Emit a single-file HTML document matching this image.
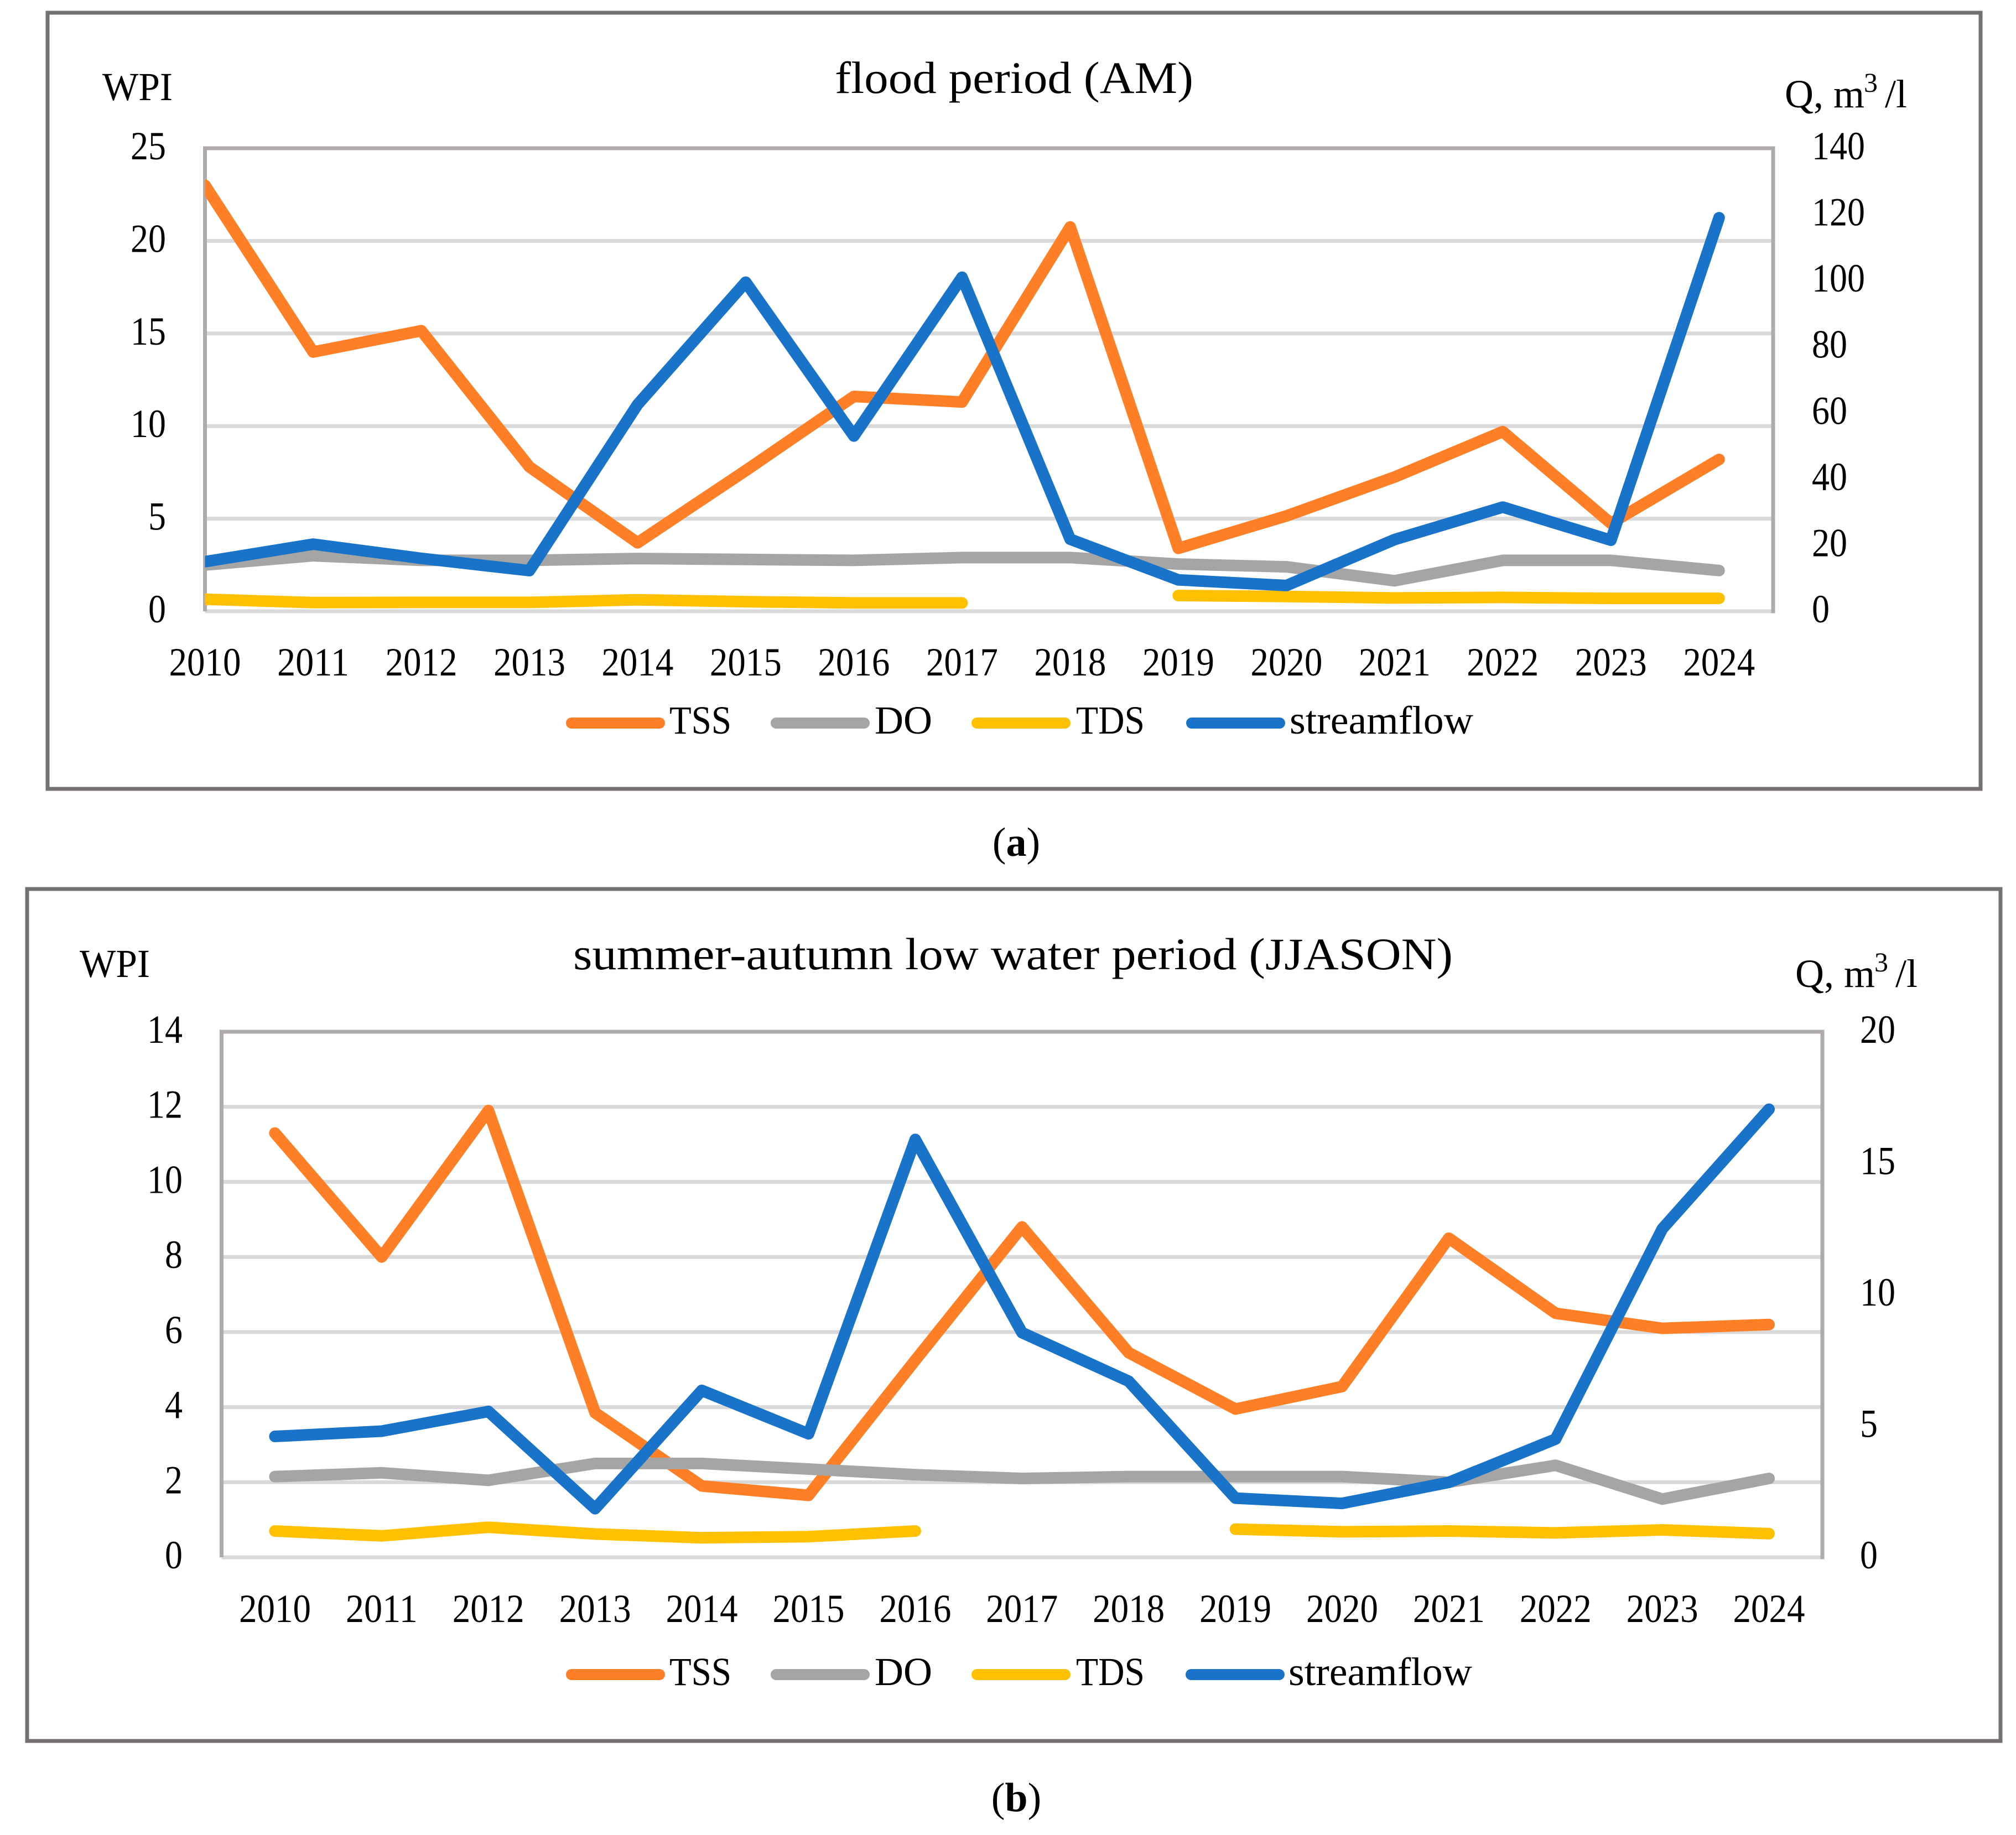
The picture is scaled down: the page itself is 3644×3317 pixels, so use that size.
<!DOCTYPE html>
<html lang="en">
<head>
<meta charset="utf-8">
<title>WPI and streamflow charts</title>
<style>
html,body{margin:0;padding:0;background:#fff;}
svg{display:block;}
text{font-family:"Liberation Serif","DejaVu Serif",serif;fill:#000;}
</style>
</head>
<body>
<svg id="figure" xmlns="http://www.w3.org/2000/svg" width="3644" height="3317" viewBox="0 0 3644 3317">
  <rect x="0" y="0" width="3644" height="3317" fill="#fff"/>
  <g id="panel-a">
    <rect x="86" y="23" width="3494" height="1403" fill="#fff" stroke="#767171" stroke-width="7"/>
    <text x="1833" y="168" font-size="82" text-anchor="middle" textLength="648" lengthAdjust="spacingAndGlyphs">flood period (AM)</text>
    <text x="185" y="181" font-size="72" textLength="127" lengthAdjust="spacingAndGlyphs">WPI</text>
    <text font-size="72" y="194"><tspan x="3226">Q, m</tspan><tspan x="3369" dy="-28" font-size="50">3</tspan><tspan x="3407" dy="28">/l</tspan></text>
  </g>
  <text x="1837" y="1547" font-size="74" text-anchor="middle">(<tspan font-weight="bold">a</tspan>)</text>
  <g id="panel-b">
    <rect x="49" y="1607" width="3567" height="1540" fill="#fff" stroke="#767171" stroke-width="7"/>
    <text x="1831" y="1752" font-size="82" text-anchor="middle" textLength="1590" lengthAdjust="spacingAndGlyphs">summer-autumn low water period (JJASON)</text>
    <text x="144" y="1766" font-size="72" textLength="127" lengthAdjust="spacingAndGlyphs">WPI</text>
    <text font-size="72" y="1784"><tspan x="3245">Q, m</tspan><tspan x="3388" dy="-28" font-size="50">3</tspan><tspan x="3426" dy="28">/l</tspan></text>
  </g>
  <text x="1837" y="3274" font-size="74" text-anchor="middle">(<tspan font-weight="bold">b</tspan>)</text>
</svg>
<script>
const years = [2010,2011,2012,2013,2014,2015,2016,2017,2018,2019,2020,2021,2022,2023,2024];
const legendLabels = ["TSS","DO","TDS","streamflow"];

const aLeftTicks = [0,5,10,15,20,25];
const aRightTicks = [0,20,40,60,80,100,120,140];
const aTss = [23.0,14.0,15.15,7.8,3.7,7.6,11.6,11.3,20.75,3.4,5.15,7.25,9.7,4.75,8.2];
const aDo = [2.5,3.0,2.75,2.75,2.85,2.8,2.75,2.9,2.9,2.55,2.4,1.65,2.75,2.75,2.2];
const aTds = [0.65,0.47,0.48,0.48,0.62,0.52,0.45,0.45,null,0.85,0.8,0.72,0.75,0.7,0.7];
const aFlow = [15,20.3,16,12.3,62.5,99.5,53,101,21.8,9.5,7.8,21.7,31.5,21.5,119];

const bLeftTicks = [0,2,4,6,8,10,12,14];
const bRightTicks = [0,5,10,15,20];
const bTss = [11.3,8.0,11.9,3.85,1.9,1.65,5.25,8.8,5.45,3.95,4.55,8.5,6.5,6.1,6.2];
const bDo = [2.15,2.25,2.05,2.5,2.5,2.35,2.2,2.1,2.15,2.15,2.15,2.0,2.45,1.55,2.1];
const bTds = [0.7,0.57,0.8,0.62,0.52,0.55,0.7,null,null,0.75,0.68,0.7,0.65,0.73,0.63];
const bFlow = [4.6,4.8,5.55,1.85,6.35,4.7,15.9,8.55,6.7,2.25,2.05,2.85,4.5,12.5,17.05];

const NS = "http://www.w3.org/2000/svg";
const seriesColors = ["#ff7f27","#a5a5a5","#ffc000","#1973c8"];

function makeNode(parent, tag, name) {
  const el = document.createElementNS(NS, tag);
  
  
  parent.appendChild(el);
  return el;
}

function makeLabel(parent, name, text, x, y, anchor, size, length) {
  const el = makeNode(parent, 'text', name);
  el.setAttribute('x', x);
  el.setAttribute('y', y);
  el.setAttribute('text-anchor', anchor);
  el.setAttribute('font-size', size);
  if (length) {
    el.setAttribute('textLength', length);
    el.setAttribute('lengthAdjust', 'spacingAndGlyphs');
  }
  el.textContent = text;
  return el;
}

function makeRule(parent, name, x1, y1, x2, y2, color, width) {
  const el = makeNode(parent, 'line', name);
  el.setAttribute('x1', x1);
  el.setAttribute('y1', y1);
  el.setAttribute('x2', x2);
  el.setAttribute('y2', y2);
  el.setAttribute('stroke', color);
  el.setAttribute('stroke-width', width);
  return el;
}

function drawPanel(root, id, box, leftTicks, rightTicks, series) {
  const step = (box.right - box.left) / box.slots;
  const xAt = i => box.left + box.offset * step + i * step;
  const leftMax = leftTicks[leftTicks.length - 1];
  const rightMax = rightTicks[rightTicks.length - 1];
  const yLeft = v => box.bottom - (v / leftMax) * (box.bottom - box.top);
  const yRight = v => box.bottom - (v / rightMax) * (box.bottom - box.top);

  leftTicks.forEach(t => {
    const color = t === leftMax ? "#afabab" : "#d9d9d9";
    makeRule(root, id + '-gridline-' + t, box.left, yLeft(t), box.right, yLeft(t), color, 7);
    makeLabel(root, id + '-left-tick-' + t, String(t), box.leftLabelX, yLeft(t) + 20, 'end', 72, 32 * String(t).length);
  });
  rightTicks.forEach(t => {
    makeLabel(root, id + '-right-tick-' + t, String(t), box.rightLabelX, yRight(t) + 20, 'start', 72, 32 * String(t).length);
  });
  makeRule(root, id + '-left-axis-line', box.left, box.top - 3.5, box.left, box.bottom, "#afabab", 7);
  makeRule(root, id + '-right-axis-line', box.right, box.top - 3.5, box.right, box.bottom + 3.5, "#afabab", 7);

  years.forEach((yr, i) => {
    makeLabel(root, id + '-x-tick-' + yr, String(yr), xAt(i), box.xLabelY, 'middle', 72, 130);
  });

  const clipId = id + '-clip';
  const clip = makeNode(root, 'clipPath', id + '-plot-clip');
  clip.setAttribute('id', clipId);
  const clipRect = makeNode(clip, 'rect', id + '-plot-clip-rect');
  clipRect.setAttribute('x', box.left);
  clipRect.setAttribute('y', box.top);
  clipRect.setAttribute('width', box.right - box.left);
  clipRect.setAttribute('height', box.bottom - box.top);

  series.forEach((s, k) => {
    const scale = s.axis === 'right' ? yRight : yLeft;
    let d = '';
    let pen = false;
    s.values.forEach((v, i) => {
      if (v === null) { pen = false; return; }
      d += (pen ? 'L' : 'M') + xAt(i).toFixed(1) + ' ' + scale(v).toFixed(1);
      pen = true;
    });
    const path = makeNode(root, 'path', id + '-series-' + legendLabels[k].toLowerCase());
    path.setAttribute('d', d);
    path.setAttribute('fill', 'none');
    path.setAttribute('stroke', seriesColors[k]);
    path.setAttribute('stroke-width', 21);
    path.setAttribute('stroke-linecap', 'round');
    path.setAttribute('stroke-linejoin', 'round');
    path.setAttribute('clip-path', 'url(#' + clipId + ')');
  });

  legendLabels.forEach((label, k) => {
    const entry = makeNode(root, 'g', id + '-legend-entry-' + label.toLowerCase());
    const swatch = makeRule(entry, id + '-legend-swatch-' + label.toLowerCase(), box.legendX[k] + 10, box.legendY, box.legendX[k] + 169, box.legendY, seriesColors[k], 20);
    swatch.setAttribute('stroke-linecap', 'round');
    makeLabel(entry, id + '-legend-label-' + label.toLowerCase(), label, box.legendTextX[k], box.legendY + 19, 'start', 72, box.legendTextW[k]);
  });
}

drawPanel(document.getElementById('panel-a'), 'panel-a',
  {left:370.5, right:3205, top:268, bottom:1105, slots:14.5, offset:0,
   leftLabelX:300, rightLabelX:3275, xLabelY:1221, legendY:1307,
   legendX:[1023,1393,1756,2144], legendTextX:[1210,1581,1945,2331], legendTextW:[112,104,124,332]},
  aLeftTicks, aRightTicks,
  [{values:aTss,axis:'left'},{values:aDo,axis:'left'},{values:aTds,axis:'left'},{values:aFlow,axis:'right'}]);

drawPanel(document.getElementById('panel-b'), 'panel-b',
  {left:400.5, right:3294, top:1865, bottom:2815, slots:15, offset:0.5,
   leftLabelX:330, rightLabelX:3362, xLabelY:2932, legendY:3027,
   legendX:[1023,1393,1756,2143], legendTextX:[1210,1581,1945,2329], legendTextW:[112,104,124,332]},
  bLeftTicks, bRightTicks,
  [{values:bTss,axis:'left'},{values:bDo,axis:'left'},{values:bTds,axis:'left'},{values:bFlow,axis:'right'}]);
</script>
</body>
</html>
